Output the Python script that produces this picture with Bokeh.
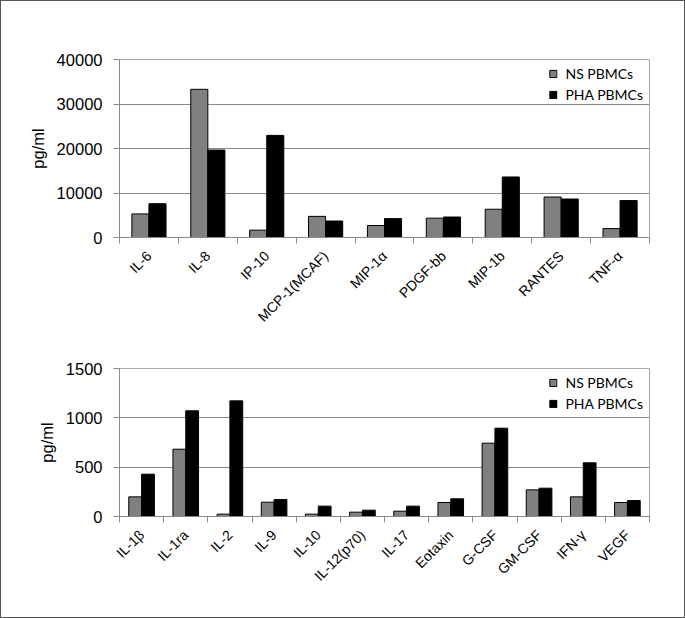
from math import pi
from bokeh.plotting import figure
from bokeh.layouts import column
from bokeh.models import (ColumnDataSource, FixedTicker, LinearAxis, Range1d, Legend, LegendItem)
from bokeh.embed import file_html
from bokeh.resources import INLINE

# ---- data ----
top_cats = ["IL-6", "IL-8", "IP-10", "MCP-1(MCAF)", "MIP-1α", "PDGF-bb", "MIP-1b", "RANTES", "TNF-α"]
top_ns = [5300, 33300, 1650, 4750, 2700, 4350, 6350, 9100, 2000]
top_pha = [7600, 19650, 22950, 3700, 4250, 4600, 13600, 8650, 8300]
top_ticks = [0, 10000, 20000, 30000, 40000]

bot_cats = ["IL-1β", "IL-1ra", "IL-2", "IL-9", "IL-10", "IL-12(p70)", "IL-17", "Eotaxin",
            "G-CSF", "GM-CSF", "IFN-γ", "VEGF"]
bot_ns = [199, 682, 24, 145, 24, 44, 54, 142, 743, 270, 199, 142]
bot_pha = [429, 1071, 1172, 172, 105, 64, 105, 179, 895, 287, 544, 162]
bot_ticks = [0, 500, 1000, 1500]

series_names = ["NS PBMCs", "PHA PBMCs"]
FONT = "Liberation Sans"
BAR_W = 0.29


def make_fig(cats, ns, pha, ticks, height, top_b, bot_b):
    n = len(cats)
    centers = [i + 0.5 for i in range(n)]
    p = figure(x_range=Range1d(0, n), y_range=Range1d(ticks[0], ticks[-1]), width=683,
               height=height, output_backend="svg", toolbar_location=None,
               x_axis_location=None, min_border_left=118, min_border_right=35,
               min_border_top=top_b, min_border_bottom=bot_b)
    src = ColumnDataSource(dict(x_ns=[c - BAR_W / 2 for c in centers],
                                x_pha=[c + BAR_W / 2 for c in centers], ns=ns, pha=pha))
    r1 = p.vbar(x="x_ns", top="ns", width=BAR_W, source=src,
                fill_color="#808080", line_color="black", line_width=1)
    r2 = p.vbar(x="x_pha", top="pha", width=BAR_W, source=src,
                fill_color="black", line_color="black", line_width=1)

    # category axis: labels at centres, Excel-style tick marks at category boundaries
    cax = LinearAxis(ticker=FixedTicker(ticks=centers, minor_ticks=list(range(n + 1))),
                     major_label_overrides={c: lab for c, lab in zip(centers, cats)},
                     axis_line_color="#8a8a8a", major_tick_line_color=None,
                     major_tick_out=0, major_tick_in=0,
                     minor_tick_line_color="#8a8a8a", minor_tick_out=6, minor_tick_in=0,
                     major_label_orientation=pi / 4,
                     major_label_text_font=FONT, major_label_text_font_size="14px",
                     major_label_text_color="black", major_label_standoff=10)
    p.add_layout(cax, "below")

    ya = p.yaxis[0]
    ya.ticker = FixedTicker(ticks=ticks)
    ya.axis_line_color = "#8a8a8a"
    ya.major_tick_line_color = "#8a8a8a"
    ya.major_tick_out = 6
    ya.major_tick_in = 0
    ya.minor_tick_line_color = None
    ya.major_label_text_font = FONT
    ya.major_label_text_font_size = "16.5px"
    ya.major_label_text_color = "black"
    ya.major_label_standoff = 11
    ya.axis_label = "pg/ml"
    ya.axis_label_text_font = FONT
    ya.axis_label_text_font_size = "16.5px"
    ya.axis_label_text_font_style = "normal"
    ya.axis_label_text_color = "black"
    ya.axis_label_standoff = 7

    p.xgrid.grid_line_color = None
    p.ygrid.ticker = FixedTicker(ticks=ticks)
    p.ygrid.grid_line_color = "#8a8a8a"
    p.ygrid.grid_line_width = 1
    p.outline_line_color = "#a8a8a8"
    p.background_fill_color = "white"
    p.border_fill_color = "white"

    legend = Legend(items=[LegendItem(label=series_names[0], renderers=[r1]),
                           LegendItem(label=series_names[1], renderers=[r2])],
                    location="top_right", border_line_color=None,
                    background_fill_alpha=0, margin=6, padding=7,
                    glyph_width=9, glyph_height=9, label_height=14, spacing=4,
                    label_standoff=8, label_text_font="Lato",
                    label_text_font_size="14px", label_text_color="black")
    p.add_layout(legend)
    return p


p1 = make_fig(top_cats, top_ns, top_pha, top_ticks, 58 + 179 + 95, 58, 95)
p2 = make_fig(bot_cats, bot_ns, bot_pha, bot_ticks, 35 + 148 + 101, 35, 101)

layout = column(p1, p2, spacing=0, styles={"border": "1px solid #555555"})

open("out.html", "w").write(file_html(layout, INLINE))
